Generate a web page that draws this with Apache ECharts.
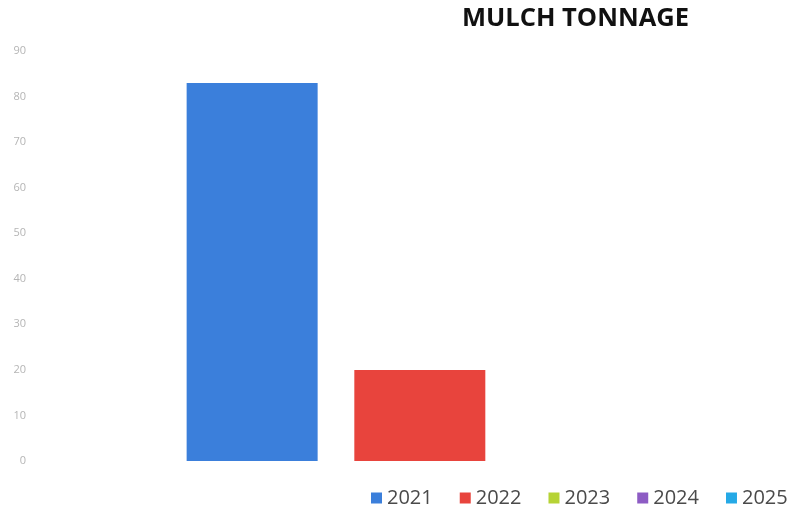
<!DOCTYPE html>
<html>
<head>
<meta charset="utf-8">
<script src="https://cdn.jsdelivr.net/npm/echarts@6/dist/echarts.min.js"></script>
<style>
  html, body { margin: 0; padding: 0; background: #ffffff; }
  #chart { width: 794px; height: 515px; }
</style>
</head>
<body>
<div id="chart"></div>
<script>
// Mulch tonnage per year
const categories = ['Mulch'];
const years = ['2021', '2022', '2023', '2024', '2025'];
const tonnage = [83, 20, null, null, null];
const yearColors = ['#3b7fdb', '#e8443d', '#b6d335', '#8d5cc4', '#25a9e6'];
const yTicks = { min: 0, max: 90, interval: 10 };

const chart = echarts.init(document.getElementById('chart'), null, { renderer: 'canvas' });

const series = years.map((y, i) => ({
  name: y,
  type: 'bar',
  data: [tonnage[i]],
  barWidth: 131,
  barGap: '28%',
  clip: false,
  itemStyle: { color: yearColors[i] }
}));

chart.setOption({
  animation: false,
  backgroundColor: '#ffffff',
  title: {
    text: 'MULCH TONNAGE',
    left: 457,
    top: 1,
    textStyle: { fontFamily: 'Open Sans', fontWeight: 'bold', fontSize: 25.5, color: '#111111' }
  },
  legend: {
    data: years,
    left: 371,
    bottom: 7,
    padding: 0,
    itemWidth: 11,
    itemHeight: 11,
    itemGap: 27,
    icon: 'rect',
    textStyle: { fontFamily: 'Open Sans', fontSize: 20, color: '#4a4a4a' }
  },
  // the year group is centred so that only 2021 and 2022 fall on the canvas
  grid: { left: 381, right: 0, top: 51, bottom: 54, containLabel: false },
  xAxis: {
    type: 'category',
    data: categories,
    axisLine: { show: false },
    axisTick: { show: false },
    axisLabel: { show: false },
    splitLine: { show: false }
  },
  yAxis: {
    type: 'value',
    offset: 345,
    min: yTicks.min,
    max: yTicks.max,
    interval: yTicks.interval,
    axisLine: { show: false },
    axisTick: { show: false },
    splitLine: { show: false },
    axisLabel: { fontFamily: 'Open Sans', fontSize: 11, color: '#b5b5b5', margin: 10 }
  },
  series: series
});
</script>
</body>
</html>
